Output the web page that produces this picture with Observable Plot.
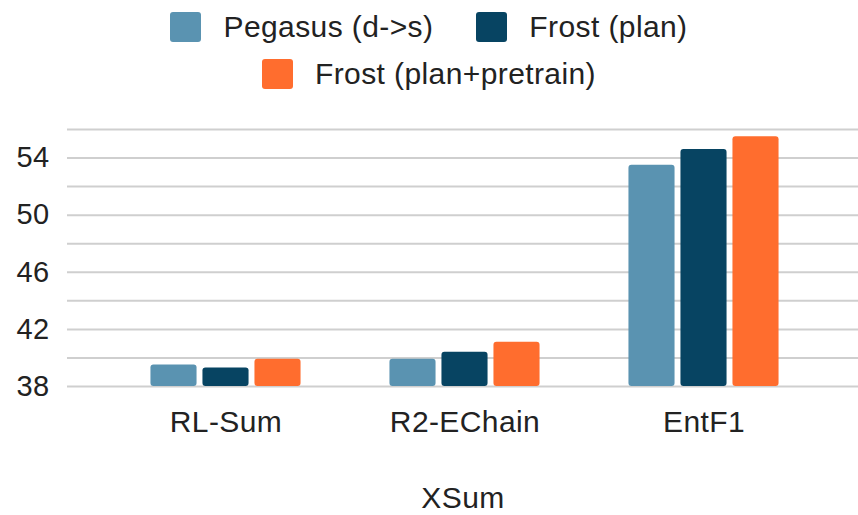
<!DOCTYPE html>
<html>
<head>
<meta charset="utf-8">
<script src="https://cdn.jsdelivr.net/npm/d3@7"></script>
<script src="https://cdn.jsdelivr.net/npm/@observablehq/plot@0.6"></script>
<style>
  html, body { margin: 0; padding: 0; background: #fff; }
  body { width: 858px; height: 515px; overflow: hidden; font-family: "Liberation Sans", Arial, sans-serif; color: #222; }
  #legend { height: 100px; box-sizing: border-box; padding-top: 12px; }
  .row { display: flex; justify-content: center; align-items: center; height: 30px; }
  .row + .row { margin-top: 16.6px; }
  .item { display: flex; align-items: center; font-size: 30px; letter-spacing: 0.4px; line-height: 30px; }
  .item + .item { margin-left: 43px; }
  .sw { width: 31px; height: 30px; border-radius: 3px; margin-right: 22px; }
  svg { display: block; }
</style>
</head>
<body>
<div id="legend"></div>
<div id="chart"></div>
<script>
const categories = ["RL-Sum", "R2-EChain", "EntF1"];
const seriesNames = ["Pegasus (d->s)", "Frost (plan)", "Frost (plan+pretrain)"];
const pegasus = [39.5, 39.9, 53.5];
const frostPlan = [39.3, 40.4, 54.6];
const frostPretrain = [39.9, 41.1, 55.5];
const colors = ["#5a93b1", "#074462", "#ff6d2e"];
const yTicks = [38, 42, 46, 50, 54];
const gridValues = [38, 40, 42, 44, 46, 48, 50, 52, 54, 56];
const xTitle = "XSum";

const seriesValues = [pegasus, frostPlan, frostPretrain];
const rows = [];
seriesNames.forEach((s, i) => categories.forEach((c, j) => rows.push({category: c, series: s, value: seriesValues[i][j]})));

// legend
const legend = document.getElementById("legend");
const layout = [[0, 1], [2]];
layout.forEach(r => {
  const row = document.createElement("div");
  row.className = "row";
  r.forEach(i => {
    const it = document.createElement("div");
    it.className = "item";
    const sw = document.createElement("div");
    sw.className = "sw";
    sw.style.background = colors[i];
    const t = document.createElement("span");
    t.textContent = seriesNames[i];
    it.appendChild(sw); it.appendChild(t);
    row.appendChild(it);
  });
  legend.appendChild(row);
});

const yMin = 38;
const bandW = 239.4;
const barW = 46.5;
const inset = (bandW - barW) / 2;
const offsets = [-52, 0, 52];

const barMarks = seriesNames.map((s, i) => Plot.barY(rows.filter(d => d.series === s), {
  x: "category",
  y1: () => yMin,
  y2: "value",
  fill: colors[i],
  dx: offsets[i],
  insetLeft: inset,
  insetRight: inset,
  rx: 3
}));

const chart = Plot.plot({
  width: 858,
  height: 415,
  marginLeft: 67,
  marginRight: 0,
  marginTop: 29,
  marginBottom: 129,
  style: {fontFamily: "Liberation Sans, Arial, sans-serif", color: "#222", background: "transparent"},
  x: {domain: categories, range: [105.7, 823.9], padding: 0, axis: null},
  y: {domain: [38, 56], axis: null},
  marks: [
    Plot.ruleY(gridValues, {stroke: "#cfcfcf", strokeWidth: 2}),
    ...barMarks,
    Plot.axisY({ticks: yTicks, tickSize: 0, tickPadding: 18, fontSize: 29, label: null, textAnchor: "end"}),
    Plot.axisX({tickSize: 0, tickPadding: 24, fontSize: 30, label: null, lineAnchor: "top"}),
    Plot.text([xTitle], {frameAnchor: "bottom", dy: 112, fontSize: 30, fill: "#222", lineAnchor: "middle"})
  ]
});
chart.querySelectorAll("text").forEach(t => t.style.letterSpacing = "0.4px");
document.getElementById("chart").appendChild(chart);
</script>
</body>
</html>
